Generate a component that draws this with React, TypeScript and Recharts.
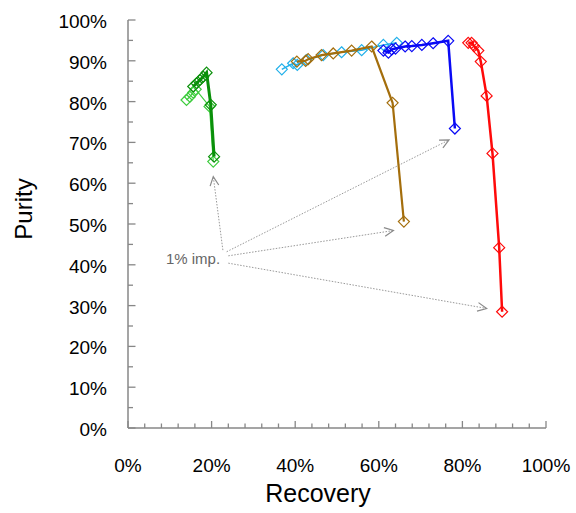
import { ReferenceDot, ReferenceLine, Scatter, ScatterChart, XAxis, YAxis } from "recharts";

// Recovery (%) and purity (%) per separation run
const LIME_RECOVERY = [14.0, 14.8, 15.6, 16.2, 19.5, 20.4];
const LIME_PURITY = [80.4, 81.2, 82.2, 83.0, 78.8, 65.3];

const GREEN_RECOVERY = [15.6, 16.4, 17.2, 18.0, 18.8, 19.8, 20.6];
const GREEN_PURITY = [83.7, 84.5, 85.3, 86.1, 87.1, 79.2, 66.5];

const CYAN_RECOVERY = [36.8, 39.5, 40.5, 42.7, 46.7, 51.1, 55.9, 61.1, 64.3];
const CYAN_PURITY = [87.9, 89.4, 89.0, 90.2, 91.4, 92.1, 92.6, 93.9, 94.4];

const BROWN_RECOVERY = [40.4, 42.5, 43.1, 46.3, 49.1, 53.5, 58.3, 63.3, 66.0];
const BROWN_PURITY = [89.8, 90.0, 90.4, 91.4, 91.8, 92.5, 93.5, 79.7, 50.6];

const BLUE_RECOVERY = [61.1, 62.3, 63.1, 64.0, 66.3, 67.9, 70.3, 73.0, 76.6, 78.2];
const BLUE_PURITY = [92.5, 92.0, 92.8, 93.0, 93.5, 93.6, 93.9, 94.3, 94.9, 73.4];

const RED_RECOVERY = [81.4, 82.2, 82.8, 83.8, 84.4, 85.8, 87.2, 88.8, 89.5];
const RED_PURITY = [94.4, 94.4, 93.6, 92.5, 89.8, 81.4, 67.3, 44.2, 28.5];

// "1% imp." callout: label anchor and arrow start/end points (recovery, purity)
const NOTE_AT = [15.55, 41.5];
const ARROW_FROM = [
  [22.7, 43.6],
  [23.6, 43.2],
  [24.0, 42.2],
  [24.0, 40.4],
];
const ARROW_TO = [
  [20.4, 61.6],
  [76.8, 70.6],
  [63.5, 48.4],
  [85.8, 29.3],
];

const X_TICKS = [0, 4, 8, 12, 16, 20, 24, 28, 32, 36, 40, 44, 48, 52, 56, 60, 64, 68, 72, 76, 80, 84, 88, 92, 96, 100];
const X_LABELS = [0, 20, 40, 60, 80, 100];
const Y_TICKS = [0, 5, 10, 15, 20, 25, 30, 35, 40, 45, 50, 55, 60, 65, 70, 75, 80, 85, 90, 95, 100];
const Y_LABELS = [0, 10, 20, 30, 40, 50, 60, 70, 80, 90, 100];

const AXIS = "#878787";
const FONT = '"Liberation Sans", Arial, Helvetica, sans-serif';

const zip = (r: number[], p: number[]) => r.map((v, i) => ({ r: v, p: p[i] }));

function diamond(color: string) {
  return (props: any) => {
    const { cx, cy } = props;
    const s = 5.5;
    return (
      <path
        d={`M${cx},${cy - s}L${cx + s},${cy}L${cx},${cy + s}L${cx - s},${cy}Z`}
        fill="none"
        stroke={color}
        strokeWidth={1.2}
      />
    );
  };
}

function BottomTick({ x, y, payload }: any) {
  const major = X_LABELS.includes(payload.value);
  return (
    <g>
      <line x1={x} x2={x} y1={y} y2={y - (major ? 7 : 4.5)} stroke={AXIS} strokeWidth={1.3} />
      {major && (
        <text x={x} y={y + 44} textAnchor="middle" fontSize={19} fontFamily={FONT} fill="#000">
          {payload.value}%
        </text>
      )}
    </g>
  );
}

function LeftTick({ x, y, payload }: any) {
  const major = Y_LABELS.includes(payload.value);
  return (
    <g>
      <line x1={x} x2={x + (major ? 7.5 : 5)} y1={y} y2={y} stroke={AXIS} strokeWidth={1.3} />
      {major && (
        <text x={x - 21} y={y + 8} textAnchor="end" fontSize={19} fontFamily={FONT} fill="#000">
          {payload.value}%
        </text>
      )}
    </g>
  );
}

function RightTick({ x, y, payload }: any) {
  const major = Y_LABELS.includes(payload.value);
  return <line x1={x} x2={x - (major ? 7.5 : 5)} y1={y} y2={y} stroke={AXIS} strokeWidth={1.3} />;
}

function Arrow(p: any) {
  const { x1, y1, x2, y2 } = p;
  const a = Math.atan2(y2 - y1, x2 - x1);
  const L = 10;
  const w = 0.45;
  const ax = x2 - L * Math.cos(a - w);
  const ay = y2 - L * Math.sin(a - w);
  const bx = x2 - L * Math.cos(a + w);
  const by = y2 - L * Math.sin(a + w);
  return (
    <g>
      <line x1={x1} y1={y1} x2={x2} y2={y2} stroke="#999" strokeWidth={1} strokeDasharray="1.5 1.5" />
      <polyline points={`${ax},${ay} ${x2},${y2} ${bx},${by}`} fill="none" stroke="#8a8a8a" strokeWidth={1.2} />
    </g>
  );
}

const SERIES = [
  { name: "lime", color: "#3ccc3c", width: 1.2, data: zip(LIME_RECOVERY, LIME_PURITY) },
  { name: "green", color: "#0a900a", width: 3, data: zip(GREEN_RECOVERY, GREEN_PURITY) },
  { name: "cyan", color: "#21b0ea", width: 1.5, data: zip(CYAN_RECOVERY, CYAN_PURITY) },
  { name: "brown", color: "#a46e0c", width: 2.2, data: zip(BROWN_RECOVERY, BROWN_PURITY) },
  { name: "blue", color: "#0a0af5", width: 2.5, data: zip(BLUE_RECOVERY, BLUE_PURITY) },
  { name: "red", color: "#ff0a0a", width: 2.5, data: zip(RED_RECOVERY, RED_PURITY) },
];

export default function App() {
  return (
    <div style={{ position: "absolute", left: 0, top: 0, fontFamily: FONT }}>
      <ScatterChart width={576} height={513} margin={{ top: 20, right: 30, bottom: 0, left: 0 }}>
        <XAxis
          xAxisId="top"
          orientation="top"
          type="number"
          domain={[0, 100]}
          height={0}
          tick={false}
          tickLine={false}
          axisLine={{ stroke: AXIS, strokeWidth: 1.5 }}
          allowDataOverflow
        />
        <YAxis
          yAxisId="right"
          orientation="right"
          type="number"
          domain={[0, 100]}
          ticks={Y_TICKS}
          interval={0}
          width={0}
          tickSize={0}
          tickMargin={0}
          tickLine={false}
          tick={<RightTick />}
          axisLine={{ stroke: AXIS, strokeWidth: 1.5 }}
          allowDataOverflow
        />
        <XAxis
          dataKey="r"
          type="number"
          domain={[0, 100]}
          ticks={X_TICKS}
          interval={0}
          height={85}
          tickSize={0}
          tickMargin={0}
          tickLine={false}
          tick={<BottomTick />}
          axisLine={{ stroke: AXIS, strokeWidth: 1.5 }}
          allowDataOverflow
          label={{
            content: ({ viewBox }: any) => (
              <text x={318} y={viewBox.y + 74} textAnchor="middle" fontSize={25} fontFamily={FONT} fill="#000">
                Recovery
              </text>
            ),
          }}
        />
        <YAxis
          dataKey="p"
          type="number"
          domain={[0, 100]}
          ticks={Y_TICKS}
          interval={0}
          width={128}
          tickSize={0}
          tickMargin={0}
          tickLine={false}
          tick={<LeftTick />}
          axisLine={{ stroke: AXIS, strokeWidth: 1.5 }}
          allowDataOverflow
          label={{
            content: () => (
              <text
                x={0}
                y={0}
                transform="translate(32, 209) rotate(-90)"
                textAnchor="middle"
                fontSize={24}
                fontFamily={FONT}
                fill="#000"
              >
                Purity
              </text>
            ),
          }}
        />
        {ARROW_FROM.map((from, i) => (
          <ReferenceLine
            key={`arrow-${i}`}
            segment={[
              { x: from[0], y: from[1] },
              { x: ARROW_TO[i][0], y: ARROW_TO[i][1] },
            ]}
            ifOverflow="visible"
            shape={Arrow}
          />
        ))}
        <ReferenceDot
          x={NOTE_AT[0]}
          y={NOTE_AT[1]}
          r={1}
          ifOverflow="visible"
          shape={(p: any) => (
            <text x={p.cx} y={p.cy + 5} textAnchor="middle" fontSize={15} fontFamily={FONT} fill="#666">
              1% imp.
            </text>
          )}
        />
        {SERIES.map((s) => (
          <Scatter
            key={s.name}
            name={s.name}
            data={s.data}
            line={{ stroke: s.color, strokeWidth: s.width }}
            lineType="joint"
            shape={diamond(s.color)}
            isAnimationActive={false}
          />
        ))}
      </ScatterChart>
    </div>
  );
}
